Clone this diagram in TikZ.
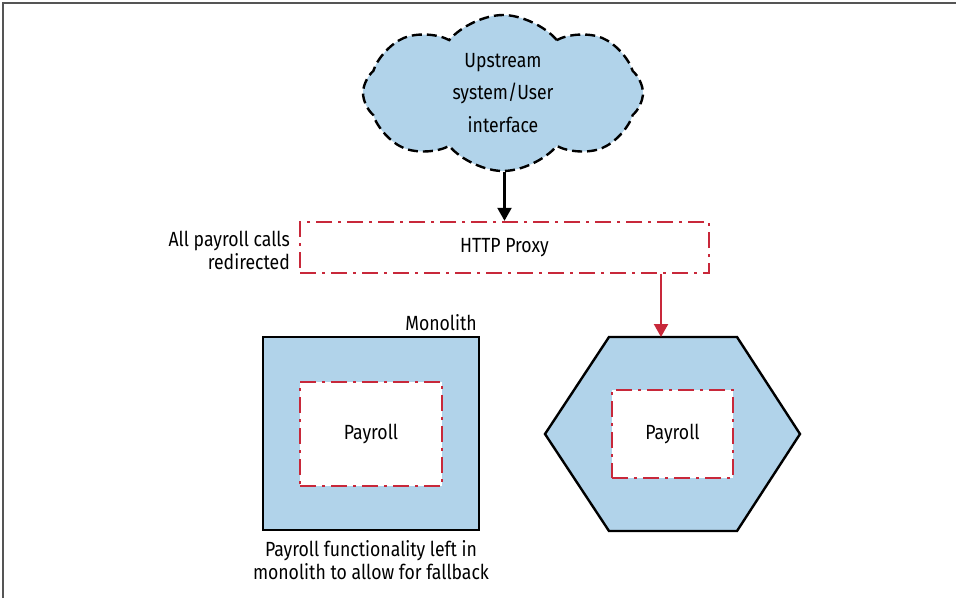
\documentclass[tikz,border=0pt]{standalone}
\usepackage{fontspec}
\setmainfont[FakeStretch=0.86]{Fira Sans}
\usetikzlibrary{shapes.symbols,arrows.meta}
\definecolor{lblue}{HTML}{B1D3EA}
\definecolor{pred}{HTML}{C8283A}
\definecolor{frame}{HTML}{555555}
\tikzset{
  txt/.style={font=\fontsize{20.5}{23}\selectfont, inner sep=0pt},
  reddash/.style={draw=pred, line width=2.4pt, dash pattern=on 16pt off 6pt on 3pt off 6pt},
  paybox/.style={reddash, fill=white, txt},
  solidbox/.style={draw=black, line width=2.4pt, fill=lblue},
  arr/.style={line width=2.2pt, -{Triangle[length=13pt,width=14pt]}},
}
\begin{document}
\begin{tikzpicture}[x=1pt,y=-1pt]
\useasboundingbox (0,0) rectangle (956,598);
% frame
\draw[frame, line width=1.6pt] (3,598) -- (3,3) -- (956,3);
% cloud
\node[cloud, cloud puffs=8, cloud puff arc=100, aspect=1.8,
      draw=black, fill=lblue, line width=2.4pt, dash pattern=on 10pt off 5pt,
      minimum width=280pt, minimum height=156pt, inner sep=0pt,
      align=center, font=\fontsize{20.5}{32.5}\selectfont]
  (cloud) at (503,93) {Upstream\\system/User\\interface};
% proxy
\node[reddash, minimum width=409pt, minimum height=51pt, inner sep=0pt, txt]
  (proxy) at (504.5,247.5) {HTTP Proxy};
\node[txt, anchor=east, align=right] (redir) at (290,250) {All payroll calls\\redirected};
\draw[arr] (cloud.south -| proxy.north) -- (proxy.north);
% monolith
\node[solidbox, minimum width=216pt, minimum height=193pt, inner sep=0pt]
  (mono) at (371,433.5) {};
\node[txt, anchor=south east] (monolbl) at (477,331) {Monolith};
\node[paybox, minimum width=142pt, minimum height=104pt] (pay1) at (371,434) {Payroll};
\node[txt, align=center, anchor=north] (caption) at (371,540)
  {Payroll functionality left in\\monolith to allow for fallback};
% microservice hexagon
\coordinate (hexin) at (661,337);
\draw[solidbox, line join=miter] (545,434) -- (609,337) -- (737,337) -- (800,434) -- (737,531) -- (609,531) -- cycle;
\node[paybox, minimum width=121pt, minimum height=88pt] (pay2) at (672.5,434) {Payroll};
\draw[arr, pred] (proxy.south -| hexin) -- (hexin);
\end{tikzpicture}
\end{document}
